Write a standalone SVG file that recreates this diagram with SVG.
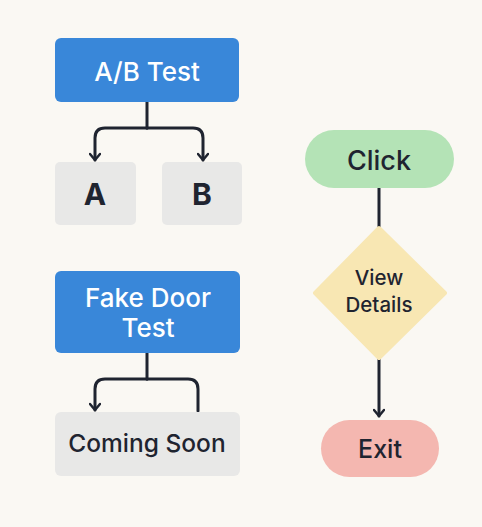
<svg xmlns="http://www.w3.org/2000/svg" width="482" height="527" viewBox="0 0 482 527">
<defs>
<style>
.t{font-family:Inter,"Liberation Sans",sans-serif;text-anchor:middle;dominant-baseline:central}
.w{fill:#ffffff;font-size:26px;font-weight:500}
.d{fill:#1f2430}
.blue{fill:#3987d9}
.grey{fill:#e8e8e7}
.c{fill:none;stroke:#1f2430;stroke-width:3;stroke-linecap:round;stroke-linejoin:round}
</style>
<marker id="ah" viewBox="0 0 12 12" refX="10" refY="6" markerWidth="12" markerHeight="12" markerUnits="userSpaceOnUse" orient="auto">
<path d="M4,1 L10,6 L4,11" fill="none" stroke="#1f2430" stroke-width="2.5" stroke-linecap="round" stroke-linejoin="round"/>
</marker>
</defs>
<rect width="482" height="527" fill="#faf8f3"/>
<g id="connectors">
<path class="c" d="M147,102 V128"/>
<path class="c" d="M147,128 H105 Q95,128 95,138 V160" marker-end="url(#ah)"/>
<path class="c" d="M147,128 H193 Q203,128 203,138 V160" marker-end="url(#ah)"/>
<path class="c" d="M147,353 V379"/>
<path class="c" d="M147,379 H105 Q95,379 95,389 V410" marker-end="url(#ah)"/>
<path class="c" d="M147,379 H188 Q198,379 198,389 V411"/>
<path class="c" d="M379,188 V228"/>
<path class="c" d="M379,358 V416" marker-end="url(#ah)"/>
</g>
<g id="ab-test">
<rect class="blue" x="55" y="38" width="184" height="64" rx="6"/>
<text class="t w" x="147" y="71">A/B Test</text>
</g>
<g id="a">
<rect class="grey" x="55" y="162" width="81" height="63" rx="5"/>
<text class="t d" x="95" y="194" font-size="30" font-weight="700">A</text>
</g>
<g id="b">
<rect class="grey" x="162" y="162" width="80" height="63" rx="5"/>
<text class="t d" x="202" y="194" font-size="30" font-weight="700">B</text>
</g>
<g id="fake-door-test">
<rect class="blue" x="55" y="271" width="185" height="82" rx="6"/>
<text class="t w" x="148" y="297">Fake Door</text>
<text class="t w" x="148" y="327">Test</text>
</g>
<g id="coming-soon">
<rect class="grey" x="55" y="412" width="185" height="64" rx="6"/>
<text class="t d" x="147" y="443" font-size="24.5" font-weight="500">Coming Soon</text>
</g>
<g id="click">
<rect x="305" y="130" width="149" height="58" rx="29" fill="#b4e3b6"/>
<text class="t d" x="379" y="160" font-size="27" font-weight="500">Click</text>
</g>
<g id="view-details">
<polygon points="379,228 445,293 379,358 315,293" fill="#f8e7b3" stroke="#f8e7b3" stroke-width="4" stroke-linejoin="round"/>
<text class="t d" x="379" y="277" font-size="20.5" font-weight="500">View</text>
<text class="t d" x="379" y="304" font-size="20.5" font-weight="500">Details</text>
</g>
<g id="exit">
<rect x="321" y="420" width="118" height="57" rx="28.5" fill="#f4b7b0"/>
<text class="t d" x="380" y="449" font-size="25" font-weight="500">Exit</text>
</g>
</svg>
